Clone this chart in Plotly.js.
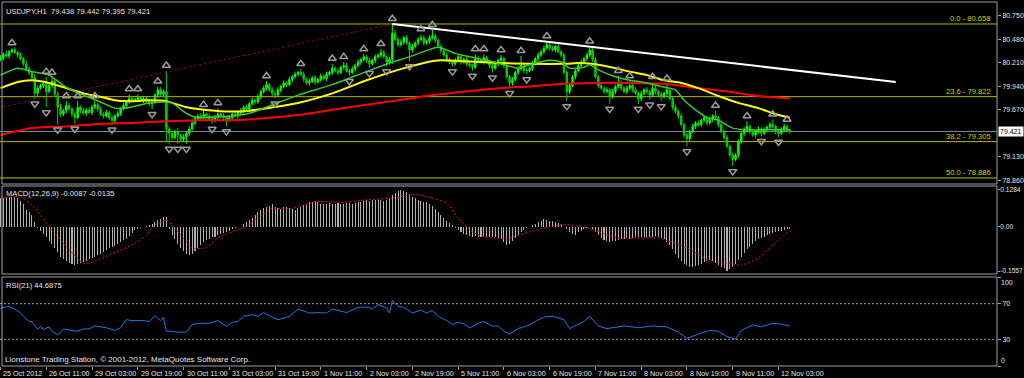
<!DOCTYPE html>
<html><head><meta charset="utf-8">
<script src="https://cdn.plot.ly/plotly-3.0.1.min.js"></script>
<style>html,body{margin:0;padding:0;background:#000;}#chart{width:1024px;height:378px;}</style>
</head><body><div id="chart"></div>
<script>
// ---------- DATA ----------
const chartTitle = 'USDJPY,H1';
const lastOHLC = [79.438, 79.442, 79.395, 79.421];
const firstOpen = 80.25;
// H1 closes, bar 0 = 25 Oct 19:00
const closes = [
80.27,80.31,80.29,80.34,80.36,80.33,80.30,80.26,80.20,80.14,
80.10,80.04,79.86,79.92,79.95,79.97,79.88,79.95,80.00,79.85,
79.70,79.62,79.66,79.72,79.68,79.62,79.58,79.70,79.66,79.63,
79.67,79.64,79.70,79.73,79.68,79.62,79.60,79.64,79.58,79.55,
79.60,79.63,79.68,79.72,79.76,79.80,79.78,79.79,79.81,79.78,
79.80,79.77,79.74,79.76,79.84,79.90,79.85,79.88,79.45,79.40,
79.35,79.42,79.38,79.33,79.36,79.40,79.45,79.52,79.57,79.60,
79.58,79.62,79.60,79.57,79.55,79.58,79.62,79.60,79.58,79.55,
79.58,79.62,79.60,79.64,79.66,79.70,79.68,79.74,79.78,79.76,
79.82,79.88,79.92,79.96,79.90,79.86,79.84,79.90,79.94,79.98,
79.96,80.02,80.05,80.08,80.10,80.08,80.02,79.98,80.00,80.04,
79.99,80.02,80.06,80.03,80.08,80.10,80.15,80.12,80.10,80.16,
80.18,80.12,80.10,80.14,80.18,80.22,80.25,80.28,80.24,80.20,
80.24,80.28,80.30,80.33,80.28,80.22,80.25,80.55,80.48,80.42,
80.45,80.50,80.44,80.36,80.40,80.44,80.48,80.50,80.44,80.46,
80.50,80.52,80.47,80.40,80.35,80.30,80.25,80.22,80.20,80.24,
80.28,80.22,80.25,80.20,80.18,80.16,80.26,80.24,80.22,80.27,
80.22,80.18,80.15,80.20,80.24,80.26,80.18,80.05,79.98,80.02,
80.10,80.14,80.18,80.12,80.12,80.15,80.20,80.26,80.30,80.34,
80.38,80.42,80.38,80.36,80.40,80.34,80.30,80.10,79.88,79.95,
80.05,80.12,80.18,80.22,80.26,80.30,80.36,80.25,80.05,79.95,
79.92,79.88,79.90,79.82,79.88,79.94,79.98,79.92,79.88,79.92,
79.95,79.90,79.86,79.80,79.86,79.90,79.88,79.84,79.92,79.88,
79.85,79.82,79.86,79.90,79.80,79.70,79.65,79.60,79.50,79.38,
79.34,79.42,79.48,79.52,79.50,79.55,79.58,79.52,79.56,79.60,
79.58,79.50,79.42,79.35,79.25,79.15,79.10,79.15,79.30,79.40,
79.44,79.48,79.42,79.38,79.42,79.45,79.40,79.44,79.47,79.50,
79.48,79.42,79.40,79.45,79.48,79.438,79.421];
// upper / lower wick length of each bar, in 0.01 yen
const upperWick = [
3,2,4,2,2,3,2,3,2,4, 3,2,4,3,2,3,8,2,4,3, 3,4,2,5,3,2,3,7,2,3, 2,3,3,4,2,3,2,3,2,3,
2,3,2,3,2,5,3,2,4,2, 3,2,3,2,2,4,3,2,24,3, 3,2,4,2,3,2,3,2,3,2, 3,5,2,3,2,3,7,2,3,2,
3,2,3,2,3,2,3,2,3,2, 3,2,3,4,2,3,2,3,2,3, 2,3,2,3,2,4,3,2,3,2, 3,2,3,2,3,2,5,2,3,2,
4,3,2,3,2,3,2,3,2,3, 2,3,2,4,3,2,3,10.8,4,3, 3,2,3,2,3,2,3,4,3,2, 3,7,3,2,3,2,3,2,2,3,
2,3,2,3,2,2,5,3,2,4, 2,3,2,3,2,4,2,3,2,3, 2,3,11,2,3,2,3,2,3,2, 3,4,2,3,2,3,2,3,2,3,
2,3,2,3,2,3,4,2,3,2, 3,2,3,2,3,2,8,3,2,3, 5,2,3,2,3,2,3,2,7,3, 2,3,2,7,3,2,3,2,3,2,
3,2,3,2,3,2,3,2,3,2, 6,2,3,2,3,2,3,2,3,2, 3,6,2,3,2,3,2,3,2,3, 6,2,3,2,3,2,0.4];
const lowerWick = [
2,3,2,3,2,2,3,2,3,2, 3,2,6,3,2,3,18,2,3,2, 20,3,2,3,2,3,7,2,3,2, 3,2,3,2,3,2,3,2,3,5,
3,2,3,2,3,2,3,2,3,2, 3,2,3,6,2,3,2,3,15,12, 3,2,10,3,2,8,3,2,3,2, 3,2,3,2,4,2,3,2,3,7,
2,3,2,3,2,3,2,3,2,3, 2,3,2,3,2,3,4,2,3,2, 3,2,3,2,3,2,3,2,3,2, 3,2,3,2,3,2,3,2,3,2,
3,2,4,2,3,2,3,2,3,5, 2,3,2,3,2,5,3,5,2,3, 2,3,2,13,3,2,3,2,3,2, 3,2,3,2,3,2,3,2,3,2,
2,3,2,3,2,4,2,3,2,3, 2,3,5,2,3,2,3,2,6,3, 2,3,2,3,4,2,3,2,3,2, 3,2,3,2,3,2,3,2,11,3,
2,3,2,3,2,3,2,3,2,3, 2,3,2,8,2,3,2,3,2,3, 2,3,2,6,3,2,3,5,2,3, 2,5,2,3,2,3,2,3,2,3,
9,3,2,3,2,3,2,3,2,3, 2,3,2,3,2,3,8,2,3,2, 3,2,3,2,3,2,3,2,3,2, 2,3,4,2,3,2,2.6];
const fractalUpBars = [4,16,18,23,27,33,45,48,55,58,71,76,93,105,116,120,127,133,137,147,151,166,169,175,182,191,206,216,220,228,233,250,261,270,275];
const fractalDownBars = [12,16,20,26,39,53,59,62,65,74,79,96,122,129,135,143,158,165,172,178,184,198,213,223,227,231,240,256,266,272];

// moving averages (bar, price)
const maGreenBars = [0,6,11,17,23,29,35,40,44,52,58,60,65,69,75,81,87,104,116,128,137,143,148,153,159,164,170,176,181,185,192,196,199,204,206,209,215,220,226,232,236,239,243,247,251,256,261,268,276];
const maGreenVals = [80.07,80.15,80.11,80.07,79.93,79.84,79.76,79.69,79.69,79.75,79.76,79.75,79.63,79.58,79.59,79.60,79.63,79.84,79.96,80.11,80.22,80.28,80.34,80.39,80.32,80.28,80.24,80.19,80.15,80.19,80.24,80.22,80.15,80.16,80.19,80.13,80.05,80.01,79.98,79.93,79.90,79.78,79.67,79.58,79.55,79.46,79.44,79.44,79.44];
const maYellowBars = [0,6,11,17,23,29,35,40,46,52,58,60,65,69,75,81,87,104,116,128,139,148,154,162,174,185,197,203,209,215,220,226,232,238,244,251,258,265,271,276];
const maYellowVals = [79.92,79.99,80.01,79.98,79.92,79.86,79.82,79.78,79.77,79.78,79.77,79.75,79.70,79.68,79.66,79.65,79.66,79.75,79.86,80.01,80.13,80.21,80.24,80.23,80.21,80.20,80.20,80.21,80.19,80.15,80.11,80.07,80.01,79.98,79.92,79.83,79.75,79.69,79.62,79.58];
const maRedBars = [0,11,23,35,46,58,69,81,87,104,116,128,139,151,162,174,185,197,209,220,232,244,254,265,276];
const maRedVals = [79.38,79.46,79.48,79.51,79.52,79.54,79.55,79.55,79.56,79.61,79.67,79.73,79.78,79.84,79.88,79.92,79.94,79.97,79.98,79.98,79.97,79.92,79.88,79.83,79.80];

// Fibonacci anchors (low far left off-screen, high at bar 137) and levels
const fibAnchorBars = [-370, 137];
const fibAnchorPrices = [77.1149, 80.658];
const fibLevels = [0.0, 23.6, 38.2, 50.0];
// trend line
const trendBars = [137, 313];
const trendPrices = [80.658, 79.99];

// MACD(12,26,9) main (histogram), in 0.001
const macdMain = [
100,102,104,105,104,103,100,90,80,60, 50,40,15,-5,-15,-25,-38,-50,-62,-75,
-90,-105,-115,-122,-128,-132,-134,-130,-128,-125, -120,-115,-110,-105,-100,-95,-90,-82,-75,-72,
-68,-62,-55,-48,-42,-32,-22,-12,-8,-5, 0,3,5,10,15,22,28,33,35,-10,
-30,-45,-60,-75,-85,-95,-100,-95,-85,-75, -65,-55,-48,-42,-38,-35,-30,-27,-22,-18,
-14,-10,-6,-3,0,8,15,22,30,40, 50,58,65,70,72,78,70,65,62,68,
70,66,63,60,65,70,75,80,85,88, 90,85,80,78,80,82,78,80,82,80,
78,82,84,80,82,85,88,90,92,90, 93,95,92,94,90,95,98,110,118,125,
128,126,122,115,105,100,95,90,88,85, 80,72,62,50,40,30,20,12,5,-5,
-12,-20,-25,-30,-32,-35,-33,-35,-36,-34, -35,-38,-35,-36,-40,-45,-55,-65,-60,-50,
-40,-30,-20,-12,-5,0,5,10,15,20, 25,22,20,18,15,12,10,0,-10,-20,
-25,-28,-20,-15,-10,-5,-2,-10,-20,-30, -40,-48,-52,-55,-52,-50,-48,-45,-42,-40,
-42,-40,-38,-36,-35,-36,-38,-37,-35,-34, -36,-40,-45,-55,-65,-80,-95,-110,-120,-130,
-135,-140,-142,-138,-135,-130,-125,-120,-118,-122, -128,-135,-140,-145,-155,-150,-140,-130,-118,-105,
-92,-80,-70,-60,-52,-45,-40,-35,-30,-26, -22,-19,-16,-14,-12,-10,-8.7];
const macdSignalBars = [0,7,11,17,23,29,32,38,46,51,54,58,61,65,67,72,76,81,86,90,95,100,104,111,119,128,137,145,151,156,160,165,169,177,188,197,205,216,230,240,247,254,259,265,270,276];
const macdSignalVals = [100,105,76,0,-70,-129,-125,-100,-64,-30,6,23,-6,-53,-76,-74,-40,-18,0,30,64,62,70,88,85,94,100,113,100,82,30,-18,-35,-41,-10,8,-5,-40,-40,-75,-115,-128,-135,-110,-65,-13.5];
const macdAxisLabels = [0.1284, 0.00, -0.1557];

// RSI(21)
const rsiBars = [0,3,5,7,8,10,11,13,14,15,17,18,20,22,25,27,29,31,33,35,37,40,42,44,46,50,52,54,56,57,58,60,62,65,67,69,73,76,79,81,83,85,88,90,92,94,96,97,101,104,108,111,114,116,118,121,125,129,130,132,135,136,137,139,141,144,147,149,151,153,156,158,160,162,164,167,169,172,174,176,178,181,184,190,193,197,199,204,206,209,212,218,223,228,233,237,240,244,248,251,254,257,259,263,266,270,273,276];
const rsiVals = [65,67,64,59.5,56,50,50,41,44.6,41,44,39,35,41.6,40,39,41.6,41.6,45,44,43,40,43,52,51,51,50,56.5,51,54.7,39,39,38,38,46.5,48,48,51,44.6,49,50,55.8,57.7,55.8,60,56.5,54,52,55.8,64,59.5,60,59.5,64,62.5,60,66,66,64,69,65,59.5,73.7,67,66,59.5,63,59.5,62.5,55.8,51,46.5,49,47.6,42.7,48,50,44.6,45,39,36,42,45,55,56,52,42,50,56,45,42,45,43,45,44,38,31,36,40,39,33,30,40,46,44,48,47,44.6875];
const rsiLevels = [70, 30];

const priceTicks = [80.750, 80.480, 80.210, 79.940, 79.670, 79.130, 78.860];
const xTickLabels = ['25 Oct 2012','26 Oct 11:00','29 Oct 03:00','29 Oct 19:00','30 Oct 11:00','31 Oct 03:00','31 Oct 19:00','1 Nov 11:00','2 Nov 03:00','2 Nov 19:00','5 Nov 11:00','6 Nov 03:00','6 Nov 19:00','7 Nov 11:00','8 Nov 03:00','8 Nov 19:00','9 Nov 11:00','12 Nov 03:00'];
const barsPerLabel = 16;

// ---------- BUILD ----------
const n = closes.length;
const bars = closes.map((_, i) => i);
const opens = closes.map((c, i) => i === 0 ? firstOpen : closes[i - 1]);
const highs = closes.map((c, i) => Math.max(opens[i], c) + upperWick[i] / 100);
const lows = closes.map((c, i) => Math.min(opens[i], c) - lowerWick[i] / 100);

const FONT = 'Liberation Sans, Arial, sans-serif';
const TXT = '#e6e6e6';
const FS = 7;      // axis labels
const FS2 = 7.6;   // panel texts

const traces = [];
traces.push({type: 'candlestick', x: bars, open: opens, high: highs, low: lows, close: closes,
  xaxis: 'x', yaxis: 'y', whiskerwidth: 0,
  increasing: {line: {color: '#00ff00', width: 1}, fillcolor: '#00ff00'},
  decreasing: {line: {color: '#00d200', width: 1}, fillcolor: '#00d200'},
  hoverinfo: 'skip'});
traces.push({type: 'scatter', mode: 'lines', x: fibAnchorBars, y: fibAnchorPrices, yaxis: 'y',
  line: {color: '#b40000', width: 1, dash: '2px,3px'}, hoverinfo: 'skip'});
traces.push({type: 'scatter', mode: 'lines', x: maRedBars, y: maRedVals, yaxis: 'y',
  line: {color: '#ff0000', width: 2, shape: 'spline', smoothing: 0.6}, hoverinfo: 'skip'});
traces.push({type: 'scatter', mode: 'lines', x: maYellowBars, y: maYellowVals, yaxis: 'y',
  line: {color: '#ffff00', width: 2, shape: 'spline', smoothing: 0.6}, hoverinfo: 'skip'});
traces.push({type: 'scatter', mode: 'lines', x: maGreenBars, y: maGreenVals, yaxis: 'y',
  line: {color: '#32cd32', width: 1.5, shape: 'spline', smoothing: 0.6}, hoverinfo: 'skip'});
traces.push({type: 'scatter', mode: 'lines', x: trendBars, y: trendPrices, yaxis: 'y',
  line: {color: '#ffffff', width: 2}, hoverinfo: 'skip'});
traces.push({type: 'scatter', mode: 'markers', x: fractalUpBars, y: fractalUpBars.map(i => highs[i] + 0.06), yaxis: 'y',
  marker: {symbol: 'triangle-up-open', size: 7, color: '#9a9a9a', line: {color: '#9a9a9a', width: 1.5}}, hoverinfo: 'skip'});
traces.push({type: 'scatter', mode: 'markers', x: fractalDownBars, y: fractalDownBars.map(i => lows[i] - 0.06), yaxis: 'y',
  marker: {symbol: 'triangle-down-open', size: 7, color: '#9a9a9a', line: {color: '#9a9a9a', width: 1.5}}, hoverinfo: 'skip'});
// MACD
traces.push({type: 'bar', x: bars, y: macdMain.map(v => v / 1000), yaxis: 'y2', width: 0.36,
  marker: {color: '#b0b0b0', line: {width: 0}}, hoverinfo: 'skip'});
traces.push({type: 'scatter', mode: 'lines', x: macdSignalBars, y: macdSignalVals.map(v => v / 1000), yaxis: 'y2',
  line: {color: '#ff0000', width: 1, dash: '2px,2px', shape: 'spline', smoothing: 0.5}, hoverinfo: 'skip'});
// RSI
traces.push({type: 'scatter', mode: 'lines', x: rsiBars, y: rsiVals, yaxis: 'y3',
  line: {color: '#1e78e6', width: 1}, hoverinfo: 'skip'});

// geometry (pixels -> paper)
const plotTop = 2, plotBottom = 366, plotH = plotBottom - plotTop;
const dom = (top, bot) => [(plotBottom - bot) / plotH, (plotBottom - top) / plotH];
const mainDom = dom(2, 184), macdDom = dom(186, 274), rsiDom = dom(277, 366);

const fibRange = fibAnchorPrices[1] - fibAnchorPrices[0];
const shapes = [];
const annotations = [];
fibLevels.forEach(l => {
  const p = fibAnchorPrices[1] - fibRange * l / 100;
  shapes.push({type: 'line', xref: 'paper', x0: 0, x1: 1, yref: 'y', y0: p, y1: p, layer: 'below',
    line: {color: '#b8b800', width: 1}});
  annotations.push({xref: 'paper', x: 0.996, xanchor: 'right', yref: 'y', y: p, yanchor: 'bottom', yshift: -1,
    text: l.toFixed(1) + ' - ' + p.toFixed(3), showarrow: false, font: {family: FONT, size: FS2, color: '#d0d000'}});
});
const bid = lastOHLC[3];
shapes.push({type: 'line', xref: 'paper', x0: 0, x1: 1, yref: 'y', y0: bid, y1: bid, layer: 'below',
  line: {color: '#778899', width: 1}});
rsiLevels.forEach(l => shapes.push({type: 'line', xref: 'paper', x0: 0, x1: 1, yref: 'y3', y0: l, y1: l,
  line: {color: '#a0a0a0', width: 1, dash: '2px,2px'}}));
// panel borders
const x0p = 2 / 997;
[mainDom, macdDom, rsiDom].forEach(d => shapes.push({type: 'rect', xref: 'paper', yref: 'paper',
  x0: x0p, x1: 1, y0: d[0], y1: d[1], line: {color: '#a0a0a0', width: 1}, fillcolor: 'rgba(0,0,0,0)'}));

// texts
const fmt = v => v.toFixed(3);
annotations.push({xref: 'paper', x: 0.004, xanchor: 'left', yref: 'paper', y: mainDom[1], yanchor: 'top', yshift: -3,
  text: chartTitle + '  ' + lastOHLC.map(fmt).join(' '), showarrow: false, font: {family: FONT, size: FS2, color: TXT}});
annotations.push({xref: 'paper', x: 0.004, xanchor: 'left', yref: 'paper', y: macdDom[1], yanchor: 'top', yshift: -1,
  text: 'MACD(12,26,9) ' + (macdMain[n - 1] / 1000).toFixed(4) + ' ' + (macdSignalVals[macdSignalVals.length - 1] / 1000).toFixed(4),
  showarrow: false, font: {family: FONT, size: FS2, color: TXT}});
annotations.push({xref: 'paper', x: 0.004, xanchor: 'left', yref: 'paper', y: rsiDom[1], yanchor: 'top', yshift: -2,
  text: 'RSI(21) ' + rsiVals[rsiVals.length - 1], showarrow: false, font: {family: FONT, size: FS2, color: TXT}});
annotations.push({xref: 'paper', x: 0.003, xanchor: 'left', yref: 'paper', y: 0, yanchor: 'bottom', yshift: 0,
  text: 'Lionstone Trading Station, © 2001-2012, MetaQuotes Software Corp.', showarrow: false, font: {family: FONT, size: FS2 + 0.4, color: TXT}});
// price box
annotations.push({xref: 'paper', x: 1, xanchor: 'left', xshift: 1, yref: 'y', y: bid, yanchor: 'middle',
  text: fmt(bid), showarrow: false, bgcolor: '#ffffff', borderpad: 1, font: {family: FONT, size: FS, color: '#000000'}});
// RSI end labels
annotations.push({xref: 'paper', x: 1, xanchor: 'left', xshift: 2, yref: 'y3', y: 100, yanchor: 'top', text: '100',
  showarrow: false, font: {family: FONT, size: FS, color: TXT}});
annotations.push({xref: 'paper', x: 1, xanchor: 'left', xshift: 2, yref: 'y3', y: 0, yanchor: 'bottom', text: '0',
  showarrow: false, font: {family: FONT, size: FS, color: TXT}});
// x labels
const xTickBars = xTickLabels.map((_, k) => k * barsPerLabel);
xTickLabels.forEach((t, k) => annotations.push({xref: 'x', x: xTickBars[k], xanchor: 'left', xshift: 1,
  yref: 'paper', y: 0, yanchor: 'top', yshift: -1, text: t, showarrow: false, font: {family: FONT, size: 7.2, color: TXT}}));

const yCommon = {side: 'right', showgrid: false, zeroline: false, ticks: 'outside', ticklen: 3, tickcolor: '#a0a0a0',
  ticklabelstandoff: 0, tickfont: {family: FONT, size: FS, color: TXT}, showline: false, fixedrange: true};
const layout = {
  width: 1024, height: 378,
  margin: {l: 0, r: 27, t: plotTop, b: 378 - plotBottom, pad: 0},
  paper_bgcolor: '#000000', plot_bgcolor: '#000000',
  showlegend: false, hovermode: false, bargap: 0,
  xaxis: {range: [-0.17, 348.4], anchor: 'y3', showgrid: false, zeroline: false, tickvals: xTickBars,
    showticklabels: false, ticks: 'outside', ticklen: 3, tickcolor: '#a0a0a0', rangeslider: {visible: false}, fixedrange: true},
  yaxis: Object.assign({}, yCommon, {domain: mainDom, range: [78.817, 80.911], tickvals: priceTicks, ticktext: priceTicks.map(fmt)}),
  yaxis2: Object.assign({}, yCommon, {domain: macdDom, range: [-0.1662, 0.1424], tickvals: macdAxisLabels,
    ticklen: 2, ticklabelstandoff: -1, tickfont: {family: FONT, size: 6.6, color: TXT},
    ticktext: macdAxisLabels.map(v => v === 0 ? '0.00' : v.toFixed(4))}),
  yaxis3: Object.assign({}, yCommon, {domain: rsiDom, range: [0, 100], tickvals: rsiLevels.concat([100, 0]),
    ticktext: rsiLevels.map(String).concat(['', ''])}),
  shapes: shapes, annotations: annotations
};
Plotly.newPlot('chart', traces, layout, {staticPlot: true, displayModeBar: false});
</script></body></html>
